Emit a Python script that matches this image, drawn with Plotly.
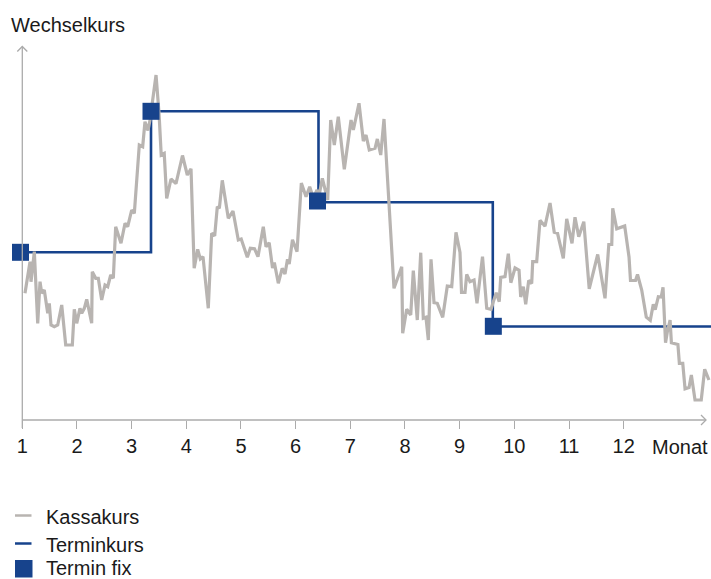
import plotly.graph_objects as go

# ---------------- data ----------------
kassa_month = [1.049,1.141,1.159,1.220,1.282,1.324,1.355,1.402,1.465,1.494,
               1.525,1.585,1.648,1.721,1.794,1.915,1.951,1.995,2.055,2.087,
               2.134,2.178,2.269,2.280,2.343,2.390,2.452,2.513,2.562,2.617,
               2.665,2.708,2.805,2.879,2.928,3.001,3.049,3.140,3.202,3.244,
               3.299,3.336,3.446,3.501,3.541,3.596,3.641,3.720,3.811,3.930,
               4.018,4.086,4.144,4.208,4.256,4.305,4.402,4.464,4.519,4.567,
               4.604,4.658,4.768,4.854,4.951,5.004,5.116,5.171,5.247,5.311,
               5.408,5.458,5.516,5.577,5.610,5.683,5.754,5.805,5.851,5.882,
               5.942,6.025,6.104,6.190,6.257,6.323,6.391,6.427,6.488,6.537,
               6.586,6.641,6.707,6.780,6.890,7.013,7.055,7.159,7.238,7.287,
               7.347,7.452,7.494,7.556,7.616,7.799,7.940,7.958,8.031,8.105,
               8.152,8.225,8.288,8.335,8.384,8.427,8.476,8.531,8.591,8.690,
               8.774,8.855,8.933,9.006,9.034,9.098,9.129,9.189,9.263,9.317,
               9.418,9.495,9.574,9.616,9.669,9.724,9.751,9.830,9.890,9.936,
               10.013,10.086,10.117,10.165,10.208,10.263,10.318,10.336,10.409,10.470,
               10.561,10.653,10.730,10.790,10.896,10.958,11.055,11.110,11.178,11.271,
               11.370,11.525,11.659,11.728,11.782,11.800,11.873,12.019,12.098,12.125,
               12.217,12.253,12.330,12.414,12.487,12.542,12.577,12.634,12.687,12.720,
               12.766,12.799,12.849,12.873,12.992,13.019,13.081,13.123,13.196,13.238,
               13.305,13.419,13.482,13.560]
kassa_level = [126.7,158.3,138.3,168.3,96.7,138.3,126.7,130,106.7,116.7,
               95,93.3,95,115,75,75,110.7,96.7,111.7,106.7,
               111.7,120.7,96.7,148.3,141.7,141.7,120,135,133.3,145,
               141.7,193.3,176.7,196.7,193.3,210,206.7,275,273.3,298.3,
               289.5,300,345,306.7,265,266.7,221.7,241,236.3,264.5,
               245,251.2,151.7,170.7,161,163.3,111.7,186.7,184.2,213.3,
               211.7,239.7,201.7,209,180,181,162.7,171.7,171.3,163.3,
               193.3,173.3,177.3,152,157.5,136.7,151.7,146,160.7,156,
               180.3,168.3,237,223.3,233.3,222,230,224,241.7,231.7,
               220,300,275,303.3,250.7,300,290,316.7,279,285,
               270,271.7,281,265,301,131.7,153.3,86.7,110.7,105,
               149.3,100,167.3,101.7,102.7,80,160.7,117.3,116.7,102.7,
               134,133.3,187.7,167.5,127.7,127.7,145.7,138.3,140,116.7,
               163.3,111.7,110.7,118.3,127.2,118.3,142.7,143.3,166.3,137.3,
               152,149.7,123,133.3,115.8,139.5,136.5,158.3,158.3,199.7,
               193.8,217,187.8,186.7,161.7,201.2,176.7,202.7,183.3,198.3,
               131.2,165.5,121.7,175.5,175.5,211.7,191.2,194,163,139.5,
               139.5,145.5,130,102.8,99.7,115.8,110.3,123.3,123,132.7,
               77.3,88.3,100,77.3,75.5,56.7,56.7,31.2,32.5,45,
               20,20,50.7,40]
assert len(kassa_month) == len(kassa_level)

termin_month = [1.0, 3.354, 6.418, 9.606, 13.6]
termin_level = [167.7, 308.7, 217.7, 93.5, 93.5]

fix_month = [0.967, 3.354, 6.400, 9.616]
fix_level = [167.7, 308.7, 219.0, 93.7]

tick_months = list(range(1, 13))
tick_labels = [str(m) for m in tick_months]

series_names = ["Kassakurs", "Terminkurs", "Termin fix"]
y_title = "Wechselkurs"
x_title = "Monat"

# ---------------- styles ----------------
W, H = 711, 579
ML, MR, MT, MB = 0, 0, 40, 159
X_RANGE = [0.592, 13.5975]
Y_RANGE = [0, 380]
GRAY = "#b8b4b1"
BLUE = "#17438c"
AXIS = "#ababab"
TXT = "#1a1a1a"
FONT = "Liberation Sans"
FS = 20

def px_x(px):
    return (px - ML) / (W - ML - MR)

def px_y(py):
    return (H - MB - py) / (H - MT - MB)

fig = go.Figure()
fig.add_trace(go.Scatter(x=termin_month, y=termin_level, mode="lines",
                         line=dict(color=BLUE, width=2.6, shape="hv"),
                         name=series_names[1], showlegend=False))
fig.add_trace(go.Scatter(x=kassa_month, y=kassa_level, mode="lines",
                         line=dict(color=GRAY, width=3.2),
                         name=series_names[0], showlegend=False))
fig.add_trace(go.Scatter(x=fix_month, y=fix_level, mode="markers",
                         marker=dict(symbol="square", size=17, color=BLUE),
                         name=series_names[2], showlegend=False, cliponaxis=False))

shapes = []
ax_line = dict(color=AXIS, width=1.3)
# x axis with arrow
shapes.append(dict(type="line", xref="paper", yref="paper",
                   x0=px_x(22.3), y0=px_y(420), x1=px_x(706), y1=px_y(420), line=ax_line))
shapes.append(dict(type="path", xref="paper", yref="paper",
                   path=f"M{px_x(701)},{px_y(415)} L{px_x(706)},{px_y(420)} L{px_x(701)},{px_y(425)}",
                   line=ax_line))
# y axis with arrow
shapes.append(dict(type="line", xref="paper", yref="paper",
                   x0=px_x(22.3), y0=px_y(428), x1=px_x(22.3), y1=px_y(46.5), line=ax_line))
shapes.append(dict(type="path", xref="paper", yref="paper",
                   path=f"M{px_x(17.3)},{px_y(51.5)} L{px_x(22.3)},{px_y(46.5)} L{px_x(27.3)},{px_y(51.5)}",
                   line=ax_line))
# legend symbols
shapes.append(dict(type="line", xref="paper", yref="paper",
                   x0=px_x(15), y0=px_y(515.5), x1=px_x(31.5), y1=px_y(515.5),
                   line=dict(color=GRAY, width=2.5)))
shapes.append(dict(type="line", xref="paper", yref="paper",
                   x0=px_x(15), y0=px_y(543.5), x1=px_x(31.5), y1=px_y(543.5),
                   line=dict(color=BLUE, width=2.5)))
shapes.append(dict(type="rect", xref="paper", yref="paper",
                   x0=px_x(15), y0=px_y(560), x1=px_x(32.5), y1=px_y(577.5),
                   line=dict(width=0), fillcolor=BLUE))

annotations = [
    dict(text=y_title, xref="paper", yref="paper", x=px_x(9), y=px_y(25),
         xanchor="left", yanchor="middle", showarrow=False,
         font=dict(family=FONT, size=FS, color=TXT)),
    dict(text=x_title, xref="paper", yref="paper", x=px_x(680), y=px_y(447),
         xanchor="center", yanchor="middle", showarrow=False,
         font=dict(family=FONT, size=FS, color=TXT)),
]
for name, yc in zip(series_names, [516.5, 544.5, 567.5]):
    annotations.append(dict(text=name, xref="paper", yref="paper", x=px_x(43.5), y=px_y(yc),
                            xanchor="left", yanchor="middle", showarrow=False,
                            font=dict(family=FONT, size=FS, color=TXT)))

fig.update_layout(
    width=W, height=H, autosize=False,
    margin=dict(l=ML, r=MR, t=MT, b=MB, pad=0),
    paper_bgcolor="white", plot_bgcolor="white",
    showlegend=False,
    xaxis=dict(range=X_RANGE, showgrid=False, zeroline=False, showline=False,
               tickmode="array", tickvals=tick_months, ticktext=tick_labels,
               ticks="outside", ticklen=8, tickwidth=1.3, tickcolor=AXIS,
               tickfont=dict(family=FONT, size=FS, color=TXT)),
    yaxis=dict(range=Y_RANGE, visible=False),
    shapes=shapes,
    annotations=annotations,
)

fig.write_html("out.html", config={"displayModeBar": False},
               post_script="document.body.style.margin='0px';document.body.style.overflow='hidden';")
